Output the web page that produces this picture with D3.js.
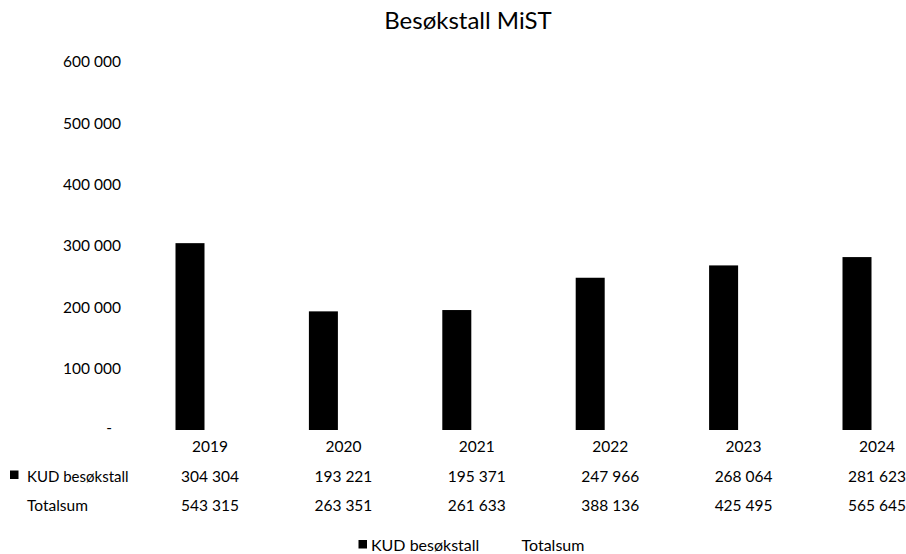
<!DOCTYPE html>
<html><head><meta charset="utf-8">
<script src="https://cdn.jsdelivr.net/npm/d3@7"></script>
<style>
html,body{margin:0;padding:0;background:#fff;}
text{font-family:Lato,"Open Sans",sans-serif;fill:#000;}
</style></head>
<body>
<svg id="chart" width="906" height="554"></svg>
<script>
const title = "Besøkstall MiST";
const years = ["2019","2020","2021","2022","2023","2024"];
const kud = [304304,193221,195371,247966,268064,281623];
const totalsum = [543315,263351,261633,388136,425495,565645];
const seriesNames = ["KUD besøkstall","Totalsum"];
const seriesColors = ["#000000","#ffffff"];
const yTicks = [0,100000,200000,300000,400000,500000,600000];

const svg = d3.select("#chart");
const W = 906, H = 554;
svg.append("rect").attr("width",W).attr("height",H).attr("fill","#fff");

const x0 = d3.scaleBand().domain(years).range([143.3, 943.7]).paddingInner(0).paddingOuter(0);
const x1 = d3.scaleBand().domain(seriesNames).range([x0.bandwidth()/2-34.5, x0.bandwidth()/2+34.5]).paddingInner(0.275).paddingOuter(0);
const y = d3.scaleLinear().domain([0,600000]).range([430, 61.6]);

const fmt = v => v === 0 ? "-" : d3.format(",")(v).replace(/,/g," ");

// title
svg.append("text").attr("x",468).attr("y",29).attr("text-anchor","middle")
  .style("font-size","24px").text(title);

// y axis labels
const gy = svg.append("g");
gy.selectAll("text").data(yTicks).enter().append("text")
  .attr("x", d => d === 0 ? 112 : 121)
  .attr("y", d => y(d) + (d===0 ? 3 : 5.5))
  .attr("text-anchor","end")
  .style("font-size","15.5px")
  .text(fmt);

// bars
const data = years.map((yr,i)=>({year:yr, values:[kud[i], totalsum[i]]}));
const groups = svg.append("g").selectAll("g").data(data).enter().append("g")
  .attr("transform", d => `translate(${x0(d.year)},0)`);
groups.selectAll("rect").data(d => d.values.map((v,j)=>({name:seriesNames[j], v, c:seriesColors[j]})))
  .enter().append("rect")
  .attr("x", d => x1(d.name))
  .attr("width", x1.bandwidth())
  .attr("y", d => y(d.v))
  .attr("height", d => y(0) - y(d.v))
  .attr("fill", d => d.c);

// data table
const cx = yr => x0(yr) + x0.bandwidth()/2;
const tbl = svg.append("g").style("font-size","15.5px");
tbl.selectAll("text.yr").data(years).enter().append("text").attr("class","yr")
  .attr("x", cx).attr("y", 452).attr("text-anchor","middle").text(d=>d);
tbl.selectAll("text.kud").data(years).enter().append("text").attr("class","kud")
  .attr("x", cx).attr("y", 481.5).attr("text-anchor","middle").text((d,i)=>fmt(kud[i]));
tbl.selectAll("text.tot").data(years).enter().append("text").attr("class","tot")
  .attr("x", cx).attr("y", 510.5).attr("text-anchor","middle").text((d,i)=>fmt(totalsum[i]));

// row headers
svg.append("rect").attr("x",10).attr("y",470.5).attr("width",8.5).attr("height",8.5).attr("fill",seriesColors[0]);
tbl.append("text").attr("x",27).attr("y",481.5).style("font-size","15px").text(seriesNames[0]);
tbl.append("text").attr("x",27).attr("y",510.5).style("font-size","15.5px").text(seriesNames[1]);

// legend
const lg = svg.append("g").style("font-size","16px");
lg.append("rect").attr("x",358.5).attr("y",540).attr("width",8.5).attr("height",8.5).attr("fill",seriesColors[0]);
lg.append("text").attr("x",371).attr("y",551).text(seriesNames[0]);
lg.append("rect").attr("x",509).attr("y",540).attr("width",8.5).attr("height",8.5).attr("fill",seriesColors[1]);
lg.append("text").attr("x",521.5).attr("y",551).text(seriesNames[1]);
</script>
</body></html>
